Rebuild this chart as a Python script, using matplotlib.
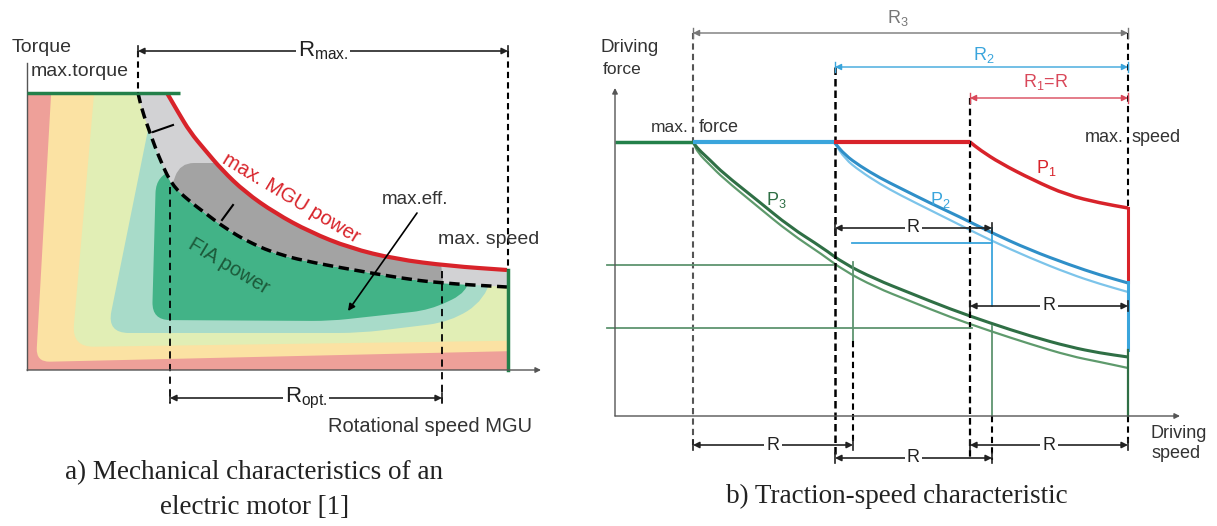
import numpy as np
import matplotlib
matplotlib.use("Agg")
import matplotlib.pyplot as plt
from matplotlib.path import Path
from matplotlib.patches import PathPatch, Polygon

plt.rcParams["font.family"] = ["Liberation Sans", "DejaVu Sans"]
plt.rcParams["mathtext.fontset"] = "custom"
plt.rcParams["mathtext.rm"] = "Liberation Sans"
plt.rcParams["mathtext.it"] = "Liberation Sans"

# --- a) кривые двигателя (пиксели картинки) ---
mgu_x = [167, 178, 190, 205, 222, 245, 275, 310, 350, 395, 450, 507]
mgu_y = [93, 112, 132, 150, 170, 192, 213, 232, 248, 259, 266, 270]
fia_x = [138, 142, 150, 160, 172, 188, 205, 225, 250, 280, 315, 354, 400, 439, 507]
fia_y = [93, 110, 133, 160, 185, 200, 213, 228, 243, 255, 263, 270, 278, 283, 287]

# зоны КПД (от внешней к внутренней)
zone_colors = ["#fbe2a3", "#e1eeb5", "#a8dbc9"]
zone_shapes = [
    [(53, 60), (36, 362), (560, 350), (560, 60)],
    [(97, 60), (72, 347), (560, 340), (560, 60)],
    [(152, 110), (107, 333), (360, 333), (450, 322), (485, 300), (500, 250), (300, 100)],
]
zone_radius = [14, 22, 22]
green_shape = [(156, 175), (152, 320), (330, 321), (430, 310), (468, 292), (470, 265), (250, 150)]
dark_grey_shape = [(165, 205), (180, 163), (430, 163), (445, 300), (165, 300)]

# --- b) тяговая характеристика ---
p1_x = [970, 980, 1000, 1033, 1067, 1100, 1128]
p1_y = [142, 150, 163, 180, 195, 203, 208]
p2_x = [834, 845, 860, 880, 900, 930, 960, 990, 1030, 1070, 1100, 1128]
p2_y = [142, 155, 166, 178, 188, 203, 217, 232, 250, 265, 275, 283]
p2_y_low = [142, 159, 171, 184, 195, 210, 225, 240, 258, 274, 284, 292]
p3_x = [693, 698, 710, 723, 757, 790, 823, 843, 875, 910, 950, 990, 1030, 1070, 1100, 1128]
p3_y = [142, 149, 160, 173, 200, 227, 248, 263, 279, 293, 309, 323, 336, 347, 353, 357]
p3_y_low = [142, 153, 165, 178, 206, 233, 255, 270, 287, 301, 317, 331, 344, 356, 362, 368]

RED = "#d8232a"
BLUE = "#3aa5dc"
DKGREEN = "#23804a"
GREY = "#555555"
TXT = "#333333"


def smooth_path(xs, ys):
    pts = np.column_stack([xs, ys]).astype(float)
    mids = (pts[1:] + pts[:-1]) / 2
    verts = [pts[0], mids[0]]
    codes = [Path.MOVETO, Path.LINETO]
    for i in range(1, len(pts) - 1):
        verts += [pts[i], mids[i]]
        codes += [Path.CURVE3, Path.CURVE3]
    verts.append(pts[-1])
    codes.append(Path.LINETO)
    return Path(verts, codes)


def rounded(pts, r):
    pts = np.asarray(pts, float)
    n = len(pts)
    verts, codes = [], []
    for i in range(n):
        p0, p1, p2 = pts[i - 1], pts[i], pts[(i + 1) % n]
        l0 = np.linalg.norm(p0 - p1)
        l2 = np.linalg.norm(p2 - p1)
        a = p1 + (p0 - p1) / l0 * min(r, l0 / 2)
        b = p1 + (p2 - p1) / l2 * min(r, l2 / 2)
        verts += [a, p1, b]
        codes += [Path.MOVETO if i == 0 else Path.LINETO, Path.CURVE3, Path.CURVE3]
    verts.append(verts[0])
    codes.append(Path.CLOSEPOLY)
    return Path(verts, codes)


def curve(xs, ys, **kw):
    ax.add_patch(PathPatch(smooth_path(xs, ys), fill=False, capstyle="butt", **kw))


def dim(x0, x1, y, label, color="#222222", fs=13, lw=1.2):
    ax.annotate("", xy=(x0, y), xytext=(x1, y),
                arrowprops=dict(arrowstyle="<|-|>", mutation_scale=9, color=color,
                                lw=lw, shrinkA=0, shrinkB=0))
    ax.plot([x0, x0], [y - 5, y + 5], color=color, lw=lw)
    ax.plot([x1, x1], [y - 5, y + 5], color=color, lw=lw)
    if label:
        ax.text((x0 + x1) / 2, y, label, color=color, fontsize=fs, ha="center", va="center",
                bbox=dict(facecolor="white", edgecolor="none", pad=1.5))


fig = plt.figure(figsize=(12.17, 5.26), dpi=100)
ax = fig.add_axes([0, 0, 1, 1])
ax.set_xlim(0, 1217)
ax.set_ylim(526, 0)
ax.axis("off")

# ===== a) =====
env = Polygon([(28, 93)] + list(zip(mgu_x, mgu_y)) + [(507, 370), (28, 370)], closed=True,
              facecolor="#eea099", edgecolor="none")
ax.add_patch(env)
for shape, col, r in zip(zone_shapes, zone_colors, zone_radius):
    p = PathPatch(rounded(shape, r), facecolor=col, edgecolor="none")
    ax.add_patch(p)
    p.set_clip_path(env)
below = Polygon([(28, 93)] + list(zip(fia_x, fia_y)) + [(507, 370), (28, 370)], closed=True,
                facecolor="none", edgecolor="none")
ax.add_patch(below)
g = PathPatch(rounded(green_shape, 18), facecolor="#42b387", edgecolor="none")
ax.add_patch(g)
g.set_clip_path(below)
band = Polygon(list(zip(mgu_x, mgu_y)) + list(zip(fia_x[::-1], fia_y[::-1])), closed=True,
               facecolor="#d2d2d4", edgecolor="none")
ax.add_patch(band)
dg = PathPatch(rounded(dark_grey_shape, 14), facecolor="#a3a3a3", edgecolor="none")
ax.add_patch(dg)
dg.set_clip_path(band)

# оси
ax.plot([27, 27], [63, 370], color=GREY, lw=1)
ax.annotate("", xy=(541, 370), xytext=(27, 370),
            arrowprops=dict(arrowstyle="-|>", mutation_scale=8, color=GREY, lw=1, shrinkA=0, shrinkB=0))
ax.plot([27, 180], [93, 93], color=DKGREEN, lw=2.5, solid_capstyle="butt")
ax.plot([508, 508], [270, 370], color=DKGREEN, lw=2.5)

curve(mgu_x, mgu_y, edgecolor=RED, lw=3)
curve(fia_x, fia_y, edgecolor="black", lw=2.5, linestyle=(0, (3, 1.6)))

ax.plot([138, 138], [51, 93], color="black", lw=1.5, linestyle=(0, (3, 2)))
ax.plot([508, 508], [51, 270], color="black", lw=1.5, linestyle=(0, (3, 2)))
ax.plot([170, 170], [187, 403], color="black", lw=1.3, linestyle=(0, (4, 3)))
ax.plot([442, 442], [271, 403], color="black", lw=1.3, linestyle=(0, (4, 3)))

ax.plot([153, 173], [132, 125], color="black", lw=1.5)
ax.plot([222, 233], [220, 205], color="black", lw=1.5)
ax.annotate("", xy=(348, 311), xytext=(417, 213),
            arrowprops=dict(arrowstyle="-|>", mutation_scale=10, color="black", lw=1.2,
                            shrinkA=0, shrinkB=0))

dim(138, 508, 51, r"R$_{\mathrm{max.}}$", fs=16)
dim(170, 442, 398, r"R$_{\mathrm{opt.}}$", fs=16)

ax.text(12, 47, "Torque", fontsize=14, color=TXT, va="center")
ax.text(31, 72, "max.torque", fontsize=14, color=TXT, va="center")
ax.text(438, 240, "max. speed", fontsize=14, color=TXT, va="center")
ax.text(382, 200, "max.eff.", fontsize=13.5, color=TXT, va="center")
ax.text(328, 426, "Rotational speed MGU", fontsize=14.5, color=TXT, va="center")
ax.text(291, 198, "max. MGU power", fontsize=14.5, color=RED, rotation=-31,
        ha="center", va="center", rotation_mode="anchor")
ax.text(229, 266, "FIA power", fontsize=14.5, color="#1c5a3a", rotation=-31,
        ha="center", va="center", rotation_mode="anchor")

ax.text(254, 473, "a) Mechanical characteristics of an", fontsize=19.5, family="Liberation Serif",
        ha="center", va="center", color="#222222")
ax.text(255, 508, "electric motor [1]", fontsize=19.5, family="Liberation Serif",
        ha="center", va="center", color="#222222")

# ===== b) =====
ax.annotate("", xy=(615, 88), xytext=(615, 416),
            arrowprops=dict(arrowstyle="-|>", mutation_scale=8, color=GREY, lw=1, shrinkA=0, shrinkB=0))
ax.annotate("", xy=(1180, 416), xytext=(615, 416),
            arrowprops=dict(arrowstyle="-|>", mutation_scale=8, color=GREY, lw=1, shrinkA=0, shrinkB=0))

ax.plot([693, 693], [33, 445], color=GREY, lw=1.5, linestyle=(0, (3, 2)))
ax.plot([835, 835], [67, 458], color="black", lw=1.8, linestyle=(0, (3, 1.6)))
ax.plot([970, 970], [98, 458], color="black", lw=1.6, linestyle=(0, (3, 1.8)))
ax.plot([1128, 1128], [33, 208], color="black", lw=1.5, linestyle=(0, (3, 2)))
ax.plot([1128, 1128], [416, 445], color="black", lw=1.5, linestyle=(0, (3, 2)))

ax.plot([607, 833], [265, 265], color="#5e9470", lw=1.3)
ax.plot([607, 972], [328, 328], color="#5e9470", lw=1.3)
ax.plot([853, 853], [262, 341], color="#5e9470", lw=1.3)
ax.plot([853, 853], [341, 445], color="black", lw=1.5, linestyle=(0, (3, 2)))
ax.plot([992, 992], [326, 416], color="#5e9470", lw=1.3)
ax.plot([992, 992], [416, 460], color="black", lw=1.5, linestyle=(0, (3, 2)))
ax.plot([852, 992], [243, 243], color=BLUE, lw=1.3)
ax.plot([992, 992], [228, 306], color=BLUE, lw=1.3)

ax.plot([615, 693], [142, 142], color=DKGREEN, lw=2.5, solid_capstyle="butt")
ax.plot([693, 834], [142, 142], color=BLUE, lw=3, solid_capstyle="butt")
ax.plot([834, 970], [142, 142], color=RED, lw=3, solid_capstyle="butt")

curve(p3_x, p3_y_low, edgecolor="#5e9a6c", lw=1.6)
curve(p3_x, p3_y, edgecolor="#2f6f45", lw=2.2)
curve(p2_x, p2_y_low, edgecolor="#7cc4ea", lw=1.6)
curve(p2_x, p2_y, edgecolor="#2f8fc8", lw=2.2)
curve(p1_x, p1_y, edgecolor=RED, lw=2.5)

ax.plot([1128, 1128], [208, 282], color=RED, lw=2.2)
ax.plot([1128, 1128], [282, 350], color=BLUE, lw=2.2)
ax.plot([1128, 1128], [350, 416], color="#2f6f45", lw=1.6)

dim(693, 1128, 33, None, color="#777777", lw=1)
dim(835, 1128, 67, None, color=BLUE, lw=1)
dim(970, 1128, 98, None, color="#d9485a", lw=1)
ax.text(898, 18, r"R$_3$", fontsize=13, color="#777777", ha="center", va="center")
ax.text(984, 55, r"R$_2$", fontsize=13, color=BLUE, ha="center", va="center")
ax.text(1046, 82, r"R$_1$=R", fontsize=13, color="#d9485a", ha="center", va="center")

dim(835, 992, 228, "R")
dim(970, 1128, 306, "R")
dim(693, 853, 445, "R")
dim(835, 992, 458, "R")
dim(970, 1128, 445, "R")

ax.text(776, 200, r"P$_{\mathrm{3}}$", fontsize=13, color="#2f6f45", ha="center", va="center")
ax.text(940, 200, r"P$_{\mathrm{2}}$", fontsize=13, color=BLUE, ha="center", va="center")
ax.text(1046, 168, r"P$_{\mathrm{1}}$", fontsize=13, color=RED, ha="center", va="center")

ax.text(600, 48, "Driving", fontsize=13.5, color=TXT, va="center")
ax.text(603, 69, "force", fontsize=12.5, color=TXT, va="center")
ax.text(689, 128, "max.", fontsize=12.5, color=TXT, va="center", ha="right")
ax.text(699, 128, "force", fontsize=13, color=TXT, va="center")
ax.text(1124, 137, "max.", fontsize=13, color=TXT, va="center", ha="right")
ax.text(1132, 137, "speed", fontsize=13, color=TXT, va="center")
ax.text(1150, 433, "Driving", fontsize=13, color=TXT, va="center")
ax.text(1152, 453, "speed", fontsize=13, color=TXT, va="center")

ax.text(897, 496, "b) Traction-speed characteristic", fontsize=19.5, family="Liberation Serif",
        ha="center", va="center", color="#222222")

fig.savefig("out.png", dpi=100)
